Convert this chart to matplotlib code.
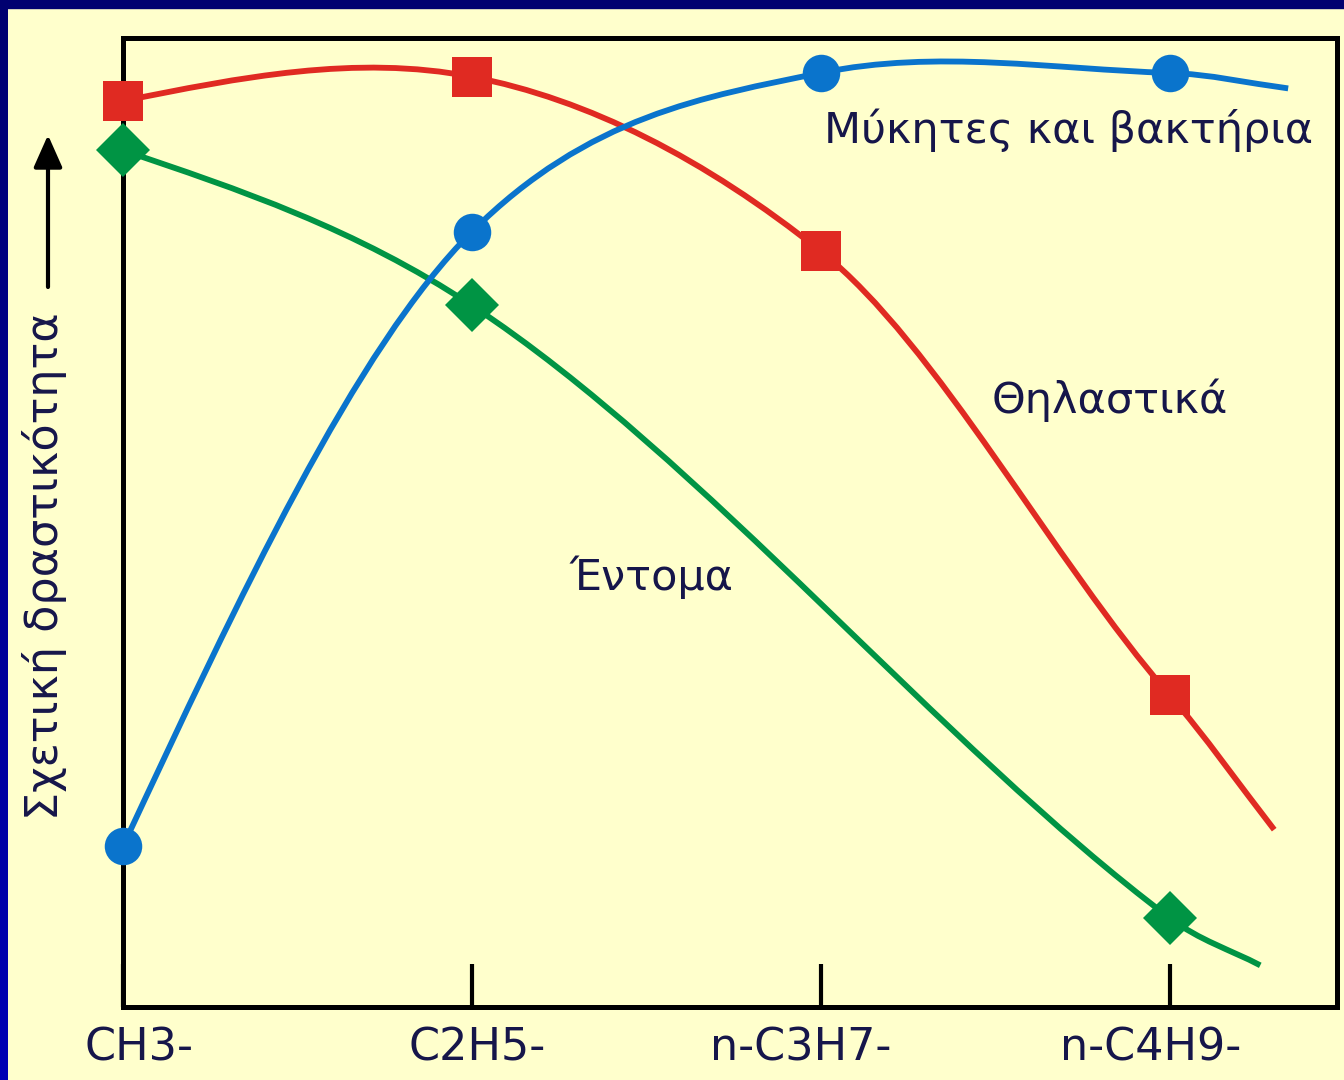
import numpy as np
import matplotlib
matplotlib.use('Agg')
import matplotlib.pyplot as plt
from matplotlib.path import Path
from matplotlib.patches import PathPatch, Rectangle
from matplotlib.colors import LinearSegmentedColormap
from matplotlib.transforms import ScaledTranslation

# categories on the x axis
categories = ['CH3-', 'C2H5-', 'n-C3H7-', 'n-C4H9-']
cat_x = [0, 1, 2, 3]

# relative activity (0 = bottom of frame, 100 = top)
# last point of each series is where the drawn curve stops
fungi_x = [0, 1, 2, 3, 3.34]
fungi_y = [16.6, 80.0, 96.4, 96.4, 94.8]
fungi_marks = [0, 1, 2, 3]

mammal_x = [0, 1, 2, 3, 3.30]
mammal_y = [93.5, 96.0, 78.0, 32.2, 18.3]
mammal_marks = [0, 1, 2, 3]

# insects have no point at n-C3H7-
insect_x = [0, 1, 3, 3.26]
insect_y = [88.4, 72.4, 9.2, 4.3]
insect_marks = [0, 1, 2]

BG = '#FFFFCC'
TXT = '#16164a'
RED = '#E02A22'
BLUE = '#0A74CC'
GREEN = '#009444'


def smooth_path(xs, ys, tension=0.9):
    # cubic hermite through the points, drawn as bezier segments
    xs = np.asarray(xs, float)
    ys = np.asarray(ys, float)
    d = np.diff(ys) / np.diff(xs)
    m = np.empty_like(ys)
    m[1:-1] = tension * (ys[2:] - ys[:-2]) / (xs[2:] - xs[:-2])
    m[0] = 1.5 * d[0] - 0.5 * m[1]
    m[-1] = d[-1]
    verts = [(xs[0], ys[0])]
    codes = [Path.MOVETO]
    for i in range(len(xs) - 1):
        h = xs[i + 1] - xs[i]
        verts += [(xs[i] + h / 3, ys[i] + m[i] * h / 3),
                  (xs[i + 1] - h / 3, ys[i + 1] - m[i + 1] * h / 3),
                  (xs[i + 1], ys[i + 1])]
        codes += [Path.CURVE4] * 3
    return Path(verts, codes)


fig = plt.figure(figsize=(13.44, 10.8), dpi=100, facecolor=BG)
ax = fig.add_axes([123 / 1344, 73 / 1080, (1337 - 123) / 1344, (1007 - 38) / 1080])
ax.set_facecolor(BG)
ax.set_xlim(0, 3.48)
ax.set_ylim(0, 100)

series = [
    (mammal_x, mammal_y, mammal_marks, RED, 's', 29),
    (insect_x, insect_y, insect_marks, GREEN, 'D', 28),
    (fungi_x, fungi_y, fungi_marks, BLUE, 'o', 27),
]
for xs, ys, marks, col, mk, ms in series:
    ax.add_patch(PathPatch(smooth_path(xs, ys), fill=False, edgecolor=col,
                           lw=4.2, capstyle='butt', zorder=2))
    ax.plot([xs[i] for i in marks], [ys[i] for i in marks], ls='none',
            marker=mk, ms=ms, color=col, mec=col, mew=0, zorder=3,
            clip_on=False)

# series names
ax.text(2.01, 90.5, 'Μύκητες και βακτήρια', fontsize=31, color=TXT, va='center')
ax.text(2.49, 62.6, 'Θηλαστικά', fontsize=31, color=TXT, va='center')
ax.text(1.28, 44.3, 'Έντομα', fontsize=31, color=TXT, va='center')

# frame and ticks
for s in ax.spines.values():
    s.set_linewidth(3.6)
    s.set_color('black')
ax.set_yticks([])
ax.set_xticks(cat_x)
ax.set_xticklabels(categories, fontsize=32, color=TXT)
ax.tick_params(axis='x', direction='in', length=31, width=3, pad=14)
offsets = [16, 5, -20, -19]
for lab, dx in zip(ax.get_xticklabels(), offsets):
    lab.set_transform(lab.get_transform() + ScaledTranslation(dx / 100, 0, fig.dpi_scale_trans))

# y label with arrow
fig.text(45 / 1344, 1 - 566 / 1080, 'Σχετική δραστικότητα', rotation=90,
         fontsize=32, color=TXT, ha='center', va='center')
ax.annotate('', xy=(48 / 1344, 1 - 135 / 1080), xytext=(48 / 1344, 1 - 287 / 1080),
            xycoords='figure fraction', textcoords='figure fraction',
            arrowprops=dict(arrowstyle='-|>,head_length=0.9,head_width=0.4',
                            color='black', lw=3, mutation_scale=22,
                            shrinkA=0, shrinkB=0))

# dark blue border on top and left
fig.add_artist(Rectangle((0, 1 - 8 / 1080), 1, 8 / 1080, transform=fig.transFigure,
                         color='#000070', zorder=10))
bax = fig.add_axes([0, 0, 8 / 1344, 1])
bax.imshow(np.linspace(0, 1, 100)[:, None], aspect='auto',
           cmap=LinearSegmentedColormap.from_list('edge', ['#000070', '#0000B4']))
bax.axis('off')

fig.savefig('out.png', dpi=100, facecolor=BG)
